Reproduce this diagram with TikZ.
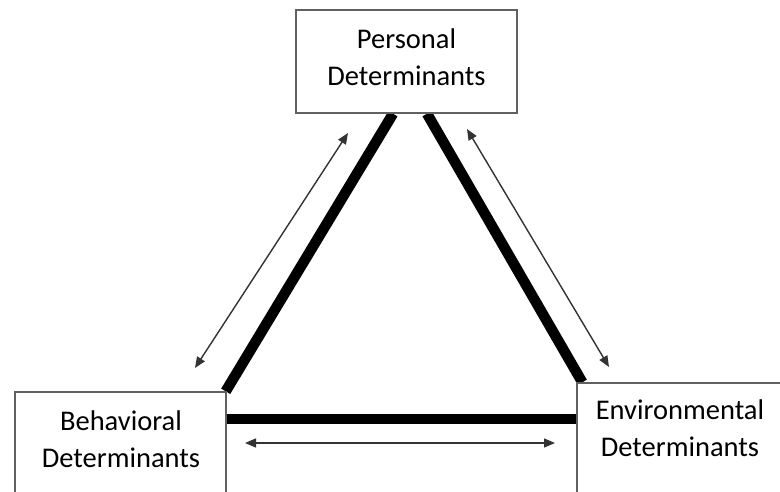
\documentclass[tikz,border=0pt]{standalone}
\usepackage{fontspec}
\setmainfont{Carlito}
\usetikzlibrary{arrows.meta, positioning, backgrounds}

\begin{document}
\begin{tikzpicture}[x=1pt, y=-1pt,
      box/.style={draw=black!62, line width=1.4pt, fill=white, inner sep=0pt},
      lbl/.style={font=\fontsize{28.5}{37}\selectfont, align=center, text=black},
      link/.style={line width=10.5pt, line cap=butt},
      arr/.style={{Triangle[length=11pt,width=9pt]}-{Triangle[length=11pt,width=9pt]},
                  line width=1.4pt, draw=black!80, fill=black}]

    \clip (0,0) rectangle (780,491);
    \useasboundingbox (0,0) rectangle (780,491);

    % Determinant boxes
    \node[box, minimum width=221pt, minimum height=103pt] (pers) at (406.5,61.5) {};
    \node[box, minimum width=211pt, minimum height=104pt] (beh)  at (120.5,444) {};
    \node[box, minimum width=210pt, minimum height=112pt] (env)  at (682,439) {};

    \node[lbl] (perstxt) at (406.5,57) {Personal\\Determinants};
    \node[lbl] (behtxt)  at (121,439)  {Behavioral\\Determinants};
    \node[lbl] (envtxt)  at (680,428)  {Environmental\\Determinants};

    % Thick triangle sides, behind the boxes
    \begin{scope}[on background layer]
      \draw[link] ([xshift=-13.5pt]pers.south) -- ([xshift=-1pt]beh.north east);
      \draw[link] ([xshift=20.5pt]pers.south)  -- ([xshift=6pt]env.north west);
      \draw[link] (beh.east |- 0,419) -- (env.west |- 0,419);
    \end{scope}

    % Two-way influence arrows
    \coordinate (pb1) at (348,133);
    \coordinate (pb2) at (195,368);
    \coordinate (pe1) at (467,129);
    \coordinate (pe2) at (609,367);
    \coordinate (be1) at (245,443);
    \coordinate (be2) at (555,443);

    \draw[arr] (pb1) -- (pb2);
    \draw[arr] (pe1) -- (pe2);
    \draw[arr] (be1) -- (be2);

\end{tikzpicture}
\end{document}
